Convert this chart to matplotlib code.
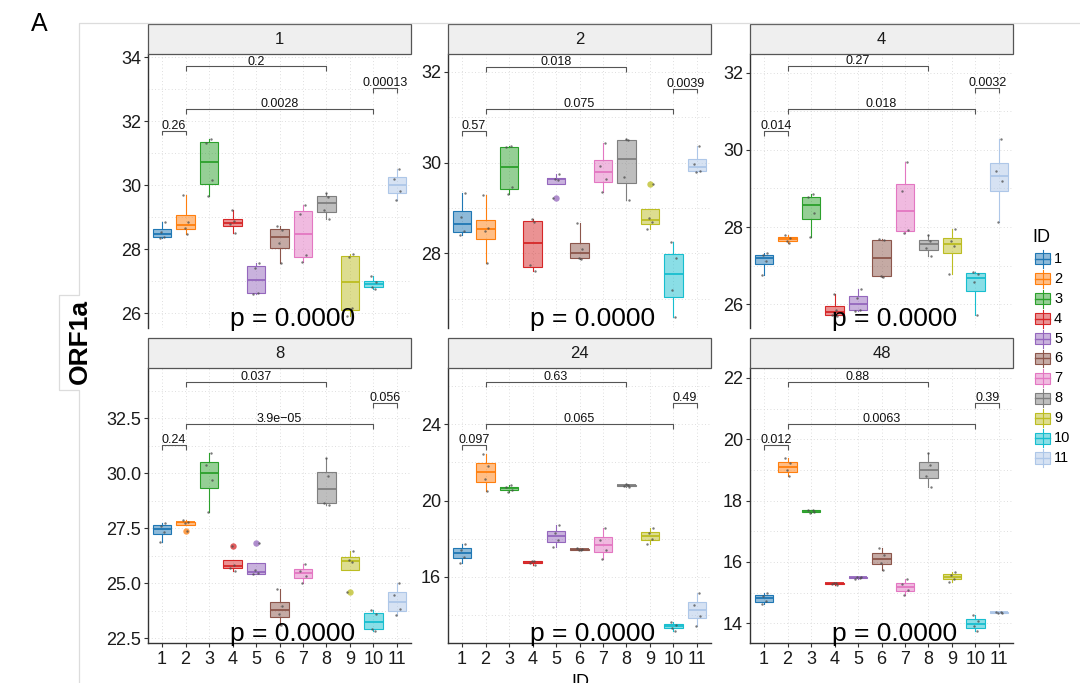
"""ORF1a boxplots by ID, faceted by timepoint, with pairwise p-value brackets."""

import matplotlib

matplotlib.use("Agg")
import matplotlib.pyplot as plt
import matplotlib.transforms as mtransforms
from matplotlib.colors import to_rgb
from matplotlib.lines import Line2D
from matplotlib.patches import Rectangle

plt.rcParams["font.family"] = ["Liberation Sans", "DejaVu Sans"]

W, H = 1080, 683

IDS = ["1", "2", "3", "4", "5", "6", "7", "8", "9", "10", "11"]
TIMEPOINTS = ["1", "2", "4", "8", "24", "48"]
ID_COLORS = ["#1f77b4", "#ff7f0e", "#2ca02c", "#d62728", "#9467bd", "#8c564b",
             "#e377c2", "#7f7f7f", "#bcbd22", "#17becf", "#aec7e8"]

# four replicate values per ID, one list per timepoint
ORF1A_T1 = [
    [28.34, 28.39, 28.55, 28.86], [28.48, 28.67, 28.85, 29.68], [29.65, 30.16, 31.32, 31.45],
    [28.50, 28.79, 28.87, 29.22], [26.60, 26.63, 27.43, 27.56], [27.58, 28.18, 28.60, 28.73],
    [27.61, 27.82, 29.11, 29.39], [28.94, 29.22, 29.64, 29.77], [25.90, 26.17, 27.77, 27.84],
    [26.75, 26.83, 26.97, 27.17], [29.54, 29.82, 30.19, 30.51],
]
ORF1A_T2 = [
    [28.40, 28.49, 28.81, 29.32], [27.79, 28.50, 28.57, 29.28], [29.31, 29.47, 30.35, 30.36],
    [27.62, 27.74, 28.70, 28.75], [29.23, 29.62, 29.64, 29.75], [27.87, 27.91, 28.10, 28.66],
    [29.36, 29.65, 29.93, 30.44], [29.17, 29.69, 30.49, 30.52], [28.53, 28.70, 28.79, 29.52],
    [26.61, 27.20, 27.91, 28.26], [29.80, 29.81, 29.98, 30.37],
]
ORF1A_T4 = [
    [26.76, 27.13, 27.27, 27.32], [27.60, 27.64, 27.73, 27.80], [27.75, 28.36, 28.77, 28.86],
    [25.70, 25.73, 25.86, 26.27], [25.83, 25.86, 26.17, 26.41], [26.72, 26.73, 27.66, 27.69],
    [27.84, 27.92, 28.94, 29.69], [27.26, 27.47, 27.64, 27.80], [26.78, 27.50, 27.63, 27.94],
    [25.72, 26.57, 26.79, 26.84], [28.12, 29.20, 29.44, 30.28],
]
ORF1A_T8 = [
    [26.86, 27.35, 27.61, 27.76], [27.39, 27.76, 27.78, 27.88], [28.23, 29.68, 30.40, 30.91],
    [25.56, 25.72, 25.84, 26.72], [25.41, 25.46, 25.60, 26.85], [23.10, 23.61, 23.98, 24.74],
    [25.00, 25.35, 25.56, 25.88], [28.56, 28.67, 29.88, 30.68], [24.60, 25.95, 26.08, 26.47],
    [22.85, 22.93, 23.59, 23.79], [23.56, 23.83, 24.49, 25.00],
]
ORF1A_T24 = [
    [16.70, 17.05, 17.42, 17.71], [20.50, 21.15, 21.84, 22.44], [20.46, 20.58, 20.70, 20.81],
    [16.64, 16.72, 16.81, 16.85], [17.57, 17.93, 18.31, 18.71], [17.38, 17.41, 17.46, 17.49],
    [16.91, 17.40, 17.95, 18.54], [20.73, 20.77, 20.82, 20.87], [17.70, 17.99, 18.29, 18.57],
    [13.14, 13.33, 13.47, 13.63], [13.40, 13.95, 14.52, 15.16],
]
ORF1A_T48 = [
    [14.62, 14.73, 14.89, 15.00], [18.80, 18.99, 19.21, 19.40], [17.60, 17.64, 17.68, 17.69],
    [15.25, 15.28, 15.32, 15.33], [15.45, 15.48, 15.51, 15.52], [15.74, 15.98, 16.22, 16.47],
    [14.94, 15.09, 15.28, 15.44], [18.45, 18.81, 19.17, 19.54], [15.35, 15.46, 15.57, 15.66],
    [13.75, 13.90, 14.08, 14.27], [14.34, 14.35, 14.37, 14.38],
]

COMPARISONS = [(1, 2), (2, 8), (2, 10), (10, 11)]
PVALS = {
    "1": ["0.26", "0.2", "0.0028", "0.00013"],
    "2": ["0.57", "0.018", "0.075", "0.0039"],
    "4": ["0.014", "0.27", "0.018", "0.0032"],
    "8": ["0.24", "0.037", "3.9e\u221205", "0.056"],
    "24": ["0.097", "0.63", "0.065", "0.49"],
    "48": ["0.012", "0.88", "0.0063", "0.39"],
}
BRACKET_Y = {
    "1": [31.71, 33.71, 32.375, 33.03],
    "2": [30.69, 32.11, 31.17, 31.63],
    "4": [30.49, 32.16, 31.05, 31.59],
    "8": [31.29, 34.17, 32.24, 33.21],
    "24": [22.91, 26.24, 24.02, 25.14],
    "48": [19.81, 21.87, 20.49, 21.19],
}
GLOBAL_P = "p = 0.0000"

DATA = {"1": ORF1A_T1, "2": ORF1A_T2, "4": ORF1A_T4,
        "8": ORF1A_T8, "24": ORF1A_T24, "48": ORF1A_T48}

# axis scales per facet (free y)
YLIM = {"1": (25.54, 34.1), "2": (26.36, 32.39), "4": (25.39, 32.48),
        "8": (22.29, 34.79), "24": (12.52, 26.96), "48": (13.36, 22.32)}
YTICKS = {"1": [26, 28, 30, 32, 34], "2": [28, 30, 32], "4": [26, 28, 30, 32],
          "8": [22.5, 25, 27.5, 30, 32.5], "24": [16, 20, 24], "48": [14, 16, 18, 20, 22]}
YMINOR = {"1": [27, 29, 31, 33], "2": [27, 29, 31], "4": [27, 29, 31],
          "8": [23.75, 26.25, 28.75, 31.25, 33.75], "24": [14, 18, 22, 26],
          "48": [15, 17, 19, 21]}
YFMT = {"1": "{:.0f}", "2": "{:.0f}", "4": "{:.0f}", "8": "{:.1f}", "24": "{:.0f}", "48": "{:.0f}"}

JITTER = [-0.11, 0.07, -0.04, 0.12]
GRID_KW = dict(color="#d4d4d4", lw=0.6, linestyle=(0, (1, 3)), zorder=0)
AXIS_COLOR = "#333333"


def fig_xy(x, y):
    return x / W, 1 - y / H


def draw_panel(ax, tp, show_x):
    values = DATA[tp]
    pos = list(range(1, len(IDS) + 1))
    ax.set_xlim(0.4, 11.6)
    ax.set_ylim(*YLIM[tp])

    for y in YTICKS[tp] + YMINOR[tp]:
        ax.axhline(y, **GRID_KW)
    for x in pos:
        ax.axvline(x, **GRID_KW)

    bp = ax.boxplot(values, positions=pos, widths=0.8, whis=1.5, patch_artist=True,
                    showcaps=False, manage_ticks=False)
    for i, c in enumerate(ID_COLORS):
        rgb = to_rgb(c)
        bp["boxes"][i].set(facecolor=(*rgb, 0.5), edgecolor=c, lw=0.8, zorder=2)
        bp["medians"][i].set(color=c, lw=1.3, zorder=3)
        for wk in bp["whiskers"][2 * i:2 * i + 2]:
            wk.set(color=c, lw=0.8, zorder=2)
        bp["fliers"][i].set(marker="o", markersize=4.6, markerfacecolor=(*rgb, 0.75),
                            markeredgecolor="none", zorder=3)

    for i, vals in enumerate(values):
        xs = [pos[i] + JITTER[(k + i) % 4] for k in range(len(vals))]
        ax.scatter(xs, vals, s=3, color="#4d4d4d", alpha=0.75, lw=0, zorder=4)

    # pairwise brackets
    y0, y1 = YLIM[tp]
    tip = 0.018 * (y1 - y0)
    for (a, b), yb, lab in zip(COMPARISONS, BRACKET_Y[tp], PVALS[tp]):
        ax.plot([a, a, b, b], [yb - tip, yb, yb, yb - tip], color="#555555", lw=0.8,
                zorder=5, solid_capstyle="butt")
        ax.annotate(lab, xy=((a + b) / 2, yb), xytext=(0, 1.4), textcoords="offset points",
                    ha="center", va="baseline", fontsize=9, color="#111111", zorder=6)

    trans = mtransforms.blended_transform_factory(ax.transData, ax.transAxes)
    ax.text(3.9, 0.006, GLOBAL_P, transform=trans, ha="left", va="baseline",
            fontsize=19, color="black", zorder=7, clip_on=False)

    ax.set_yticks(YTICKS[tp])
    ax.set_yticklabels([YFMT[tp].format(v) for v in YTICKS[tp]])
    ax.tick_params(axis="y", length=3, width=0.8, color=AXIS_COLOR, pad=2,
                   labelsize=13, labelcolor="#1a1a1a")
    for s in ["top", "right"]:
        ax.spines[s].set_visible(False)
    ax.spines["left"].set_color(AXIS_COLOR)
    ax.spines["left"].set_linewidth(1.0)
    if show_x:
        ax.set_xticks(pos)
        ax.set_xticklabels(IDS)
        ax.tick_params(axis="x", length=3, width=0.8, color=AXIS_COLOR, pad=2.5,
                       labelsize=13, labelcolor="#1a1a1a")
        ax.spines["bottom"].set_color(AXIS_COLOR)
        ax.spines["bottom"].set_linewidth(1.0)
    else:
        ax.set_xticks([])
        ax.spines["bottom"].set_visible(False)

    # facet strip
    h_px = ax.get_position().height * H
    sh = 30 / h_px
    ax.add_patch(Rectangle((0, 1), 1, sh, transform=ax.transAxes, clip_on=False,
                           facecolor="#efefef", edgecolor="#555555", lw=0.9, zorder=8))
    ax.text(0.5, 1 + sh / 2, tp, transform=ax.transAxes, ha="center", va="center",
            fontsize=12, color="#1a1a1a", zorder=9)


def main():
    fig = plt.figure(figsize=(W / 100, H / 100), dpi=100)

    # outline of the pasted figure frame
    xs_px = [1080, 79, 79, 59, 59, 79, 79]
    ys_px = [22.5, 22.5, 295, 295, 390, 390, 683]
    fig.add_artist(Line2D([x / W for x in xs_px], [1 - y / H for y in ys_px],
                          color="#dcdcdc", lw=0.9, transform=fig.transFigure))

    cols = [148, 448, 750]
    rows = [(54, 328), (368, 643)]
    for k, tp in enumerate(TIMEPOINTS):
        r, c = divmod(k, 3)
        top, bot = rows[r]
        left = cols[c]
        ax = fig.add_axes([left / W, 1 - bot / H, 263 / W, (bot - top) / H])
        draw_panel(ax, tp, show_x=(r == 1))

    fig.text(*fig_xy(39.5, 24), "A", ha="center", va="center", fontsize=18)
    fig.text(*fig_xy(80, 342), "ORF1a", rotation=90, ha="center", va="center",
             fontsize=19, fontweight="bold")
    fig.text(*fig_xy(580, 674), "ID", ha="center", va="top", fontsize=13)

    # legend drawn on its own small axes, one row per ID
    lax = fig.add_axes([1028 / W, 1 - 470 / H, 52 / W, 240 / H])
    lax.set_xlim(0, 52)
    lax.set_ylim(len(IDS) + 0.6, -0.45)
    lax.axis("off")
    lax.text(4, -0.05, "ID", ha="left", va="center", fontsize=13)
    for i, (lab, c) in enumerate(zip(IDS, ID_COLORS)):
        y = i + 1
        rgb = to_rgb(c)
        lax.plot([14.5, 14.5], [y - 0.45, y + 0.45], color=c, lw=0.8)
        lax.add_patch(Rectangle((7, y - 0.28), 15, 0.56, facecolor=(*rgb, 0.5),
                                edgecolor=c, lw=0.8))
        lax.plot([7, 22], [y, y], color=c, lw=1.0)
        lax.text(26, y, lab, ha="left", va="center", fontsize=10.5)

    fig.savefig("out.png", dpi=100)


if __name__ == "__main__":
    main()
